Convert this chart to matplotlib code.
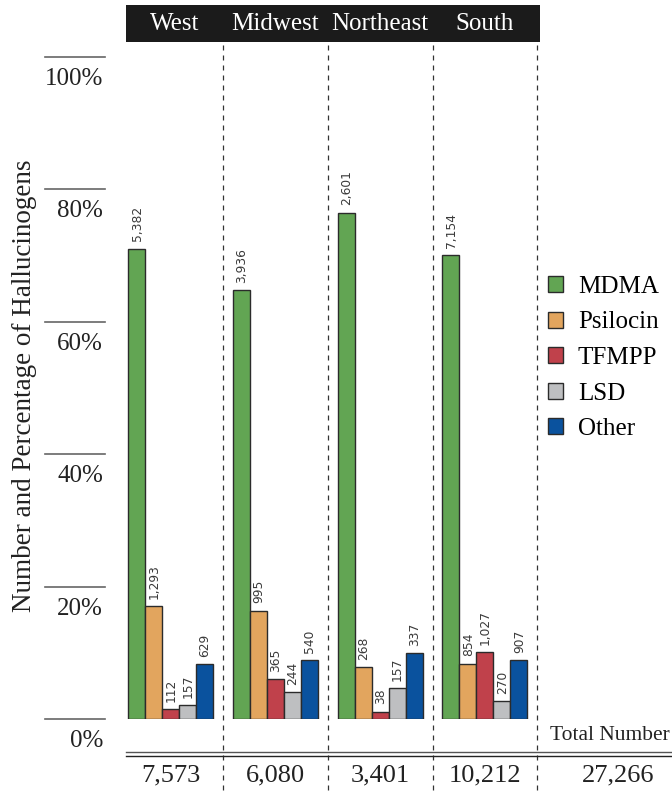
import matplotlib
matplotlib.use("Agg")
import matplotlib.pyplot as plt
from matplotlib.patches import Rectangle, Patch
from matplotlib import transforms

plt.rcParams['font.family'] = ['Liberation Serif', 'DejaVu Serif']

regions = ["West", "Midwest", "Northeast", "South"]
drugs = ["MDMA", "Psilocin", "TFMPP", "LSD", "Other"]
region_totals = [7573, 6080, 3401, 10212]
grand_total = 27266
counts = {
    "West":      [5382, 1293, 112, 157, 629],
    "Midwest":   [3936, 995, 365, 244, 540],
    "Northeast": [2601, 268, 38, 157, 337],
    "South":     [7154, 854, 1027, 270, 907],
}
colors = ["#62A553", "#E2A55E", "#C0414B", "#BEBFC1", "#0A529E"]
yticks = [0, 20, 40, 60, 80, 100]

W, H = 672, 792
fig = plt.figure(figsize=(W / 100, H / 100), dpi=100)
fig.patch.set_facecolor("white")

def fx(px):
    return px / W

def fy(py):
    return 1 - py / H

ax = fig.add_axes([fx(126), fy(719), fx(672) - fx(126), fy(57) - fy(719)])
x_left, x_right = -0.4246, 4.785
ax.set_xlim(x_left, x_right)
ax.set_ylim(0, 100)
ax.axis("off")

ppu = 662 / 100.0  # pixels per percent
def dy(px_from_zero):
    return -px_from_zero / ppu

bw = 0.162
txt = "#222222"
for gi, reg in enumerate(regions):
    tot = region_totals[gi]
    for di, drug in enumerate(drugs):
        c = counts[reg][di]
        h = c / tot * 100
        x = gi + (di - 2) * bw
        ax.bar(x, h, bw, color=colors[di], edgecolor="#2b2b2b", linewidth=1.0)
        ax.text(x + 0.005, h + 1.1, f"{c:,}", rotation=90, ha="center", va="bottom",
                fontsize=8.8, color="#3a3a3a", family="DejaVu Sans")

# header band
ax.add_patch(Rectangle((x_left, 102.27), 3.525 - x_left, 5.58, facecolor="#1b1b1b",
                       edgecolor="none", clip_on=False, transform=ax.transData))
col_centers = [(x_left + 0.5) / 2, 1, 2, 3]
for gi, reg in enumerate(regions):
    ax.text(col_centers[gi], 105.0, reg, color="white", ha="center", va="center",
            fontsize=18, clip_on=False)

# dashed separators
for i in range(4):
    ax.plot([i + 0.5, i + 0.5], [101.8, -11.2], color="#333333", lw=0.9,
            ls=(0, (4, 4)), clip_on=False)

# double line
ax.plot([x_left, x_right], [dy(33), dy(33)], color="#555555", lw=1.0, clip_on=False)
ax.plot([x_left, x_right], [dy(37), dy(37)], color="#222222", lw=1.0, clip_on=False)

# totals
for gi in range(4):
    ax.text(gi, dy(56), f"{region_totals[gi]:,}",
            ha="center", va="center", fontsize=19, color=txt, clip_on=False)
ax.text(4.27, dy(56), f"{grand_total:,}", ha="center", va="center", fontsize=19,
        color=txt, clip_on=False)
ax.text(4.19, dy(16), "Total Number", ha="center", va="center", fontsize=15.5,
        color=txt, clip_on=False)

# left tick lines and labels
bt = transforms.blended_transform_factory(fig.transFigure, ax.transData)
for v in yticks:
    ax.plot([fx(45), fx(105)], [v, v], color="#666666", lw=1.2, transform=bt,
            clip_on=False)
    ax.text(fx(103), v - 22 / ppu, f"{v}%", ha="right", va="center", fontsize=18,
            color=txt, transform=bt, clip_on=False)

fig.text(fx(25), fy(386), "Number and Percentage of Hallucinogens", rotation=90,
         ha="center", va="center", fontsize=19.5, color=txt)

handles = [Patch(facecolor=colors[i], edgecolor="#2b2b2b", linewidth=1.0)
           for i in range(len(drugs))]
fig.legend(handles, drugs, loc="upper left", bbox_to_anchor=(fx(548), fy(276)),
           frameon=False, fontsize=18, handlelength=0.6, handleheight=0.6,
           labelspacing=0.54, handletextpad=0.6, borderaxespad=0, borderpad=0)

fig.savefig("out.png", dpi=100, facecolor="white")
